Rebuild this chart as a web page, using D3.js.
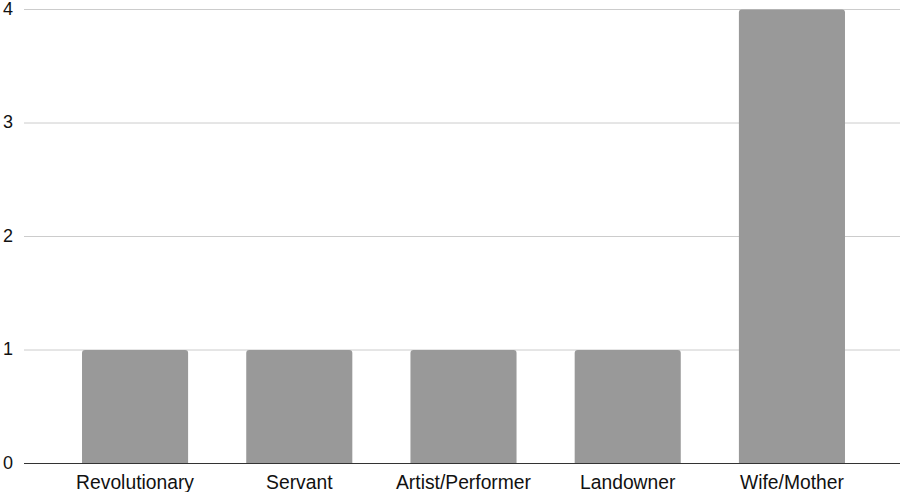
<!DOCTYPE html>
<html>
<head>
<meta charset="utf-8">
<script src="https://cdn.jsdelivr.net/npm/d3@7"></script>
<style>
  html, body { margin: 0; padding: 0; background: #fff; }
  svg { display: block; font-family: "Liberation Sans", Arial, sans-serif; }
</style>
</head>
<body>
<svg id="chart" width="900" height="492"></svg>
<script>
const categories = ["Revolutionary", "Servant", "Artist/Performer", "Landowner", "Wife/Mother"];
const counts = [1, 1, 1, 1, 4];
const yTicks = [0, 1, 2, 3, 4];

const svg = d3.select("#chart");
const plotLeft = 24, plotRight = 900, plotTop = 9.5, plotBottom = 463.5;

const x = d3.scaleBand()
  .domain(categories)
  .range([plotLeft + 3, plotRight])
  .paddingInner(0.354)
  .paddingOuter(0.335);

const y = d3.scaleLinear().domain([0, 4]).range([plotBottom, plotTop]);

// horizontal gridlines
svg.append("g")
  .selectAll("line")
  .data(yTicks.filter(d => d > 0))
  .join("line")
  .attr("x1", plotLeft).attr("x2", plotRight)
  .attr("y1", d => y(d)).attr("y2", d => y(d))
  .attr("stroke", "#cccccc").attr("stroke-width", 1);

// y tick labels
svg.append("g")
  .selectAll("text")
  .data(yTicks)
  .join("text")
  .attr("x", 8)
  .attr("y", d => y(d))
  .attr("dy", "0.28em")
  .attr("text-anchor", "middle")
  .attr("font-size", 18)
  .attr("fill", "#111")
  .text(d => d);

// bars with slightly rounded top corners
const r = 3;
svg.append("g")
  .selectAll("path")
  .data(categories.map((c, i) => ({ c, v: counts[i] })))
  .join("path")
  .attr("fill", "#999999")
  .attr("d", d => {
    const x0 = x(d.c), w = x.bandwidth(), y0 = y(d.v), y1 = y(0);
    return `M${x0},${y1}V${y0 + r}Q${x0},${y0} ${x0 + r},${y0}H${x0 + w - r}Q${x0 + w},${y0} ${x0 + w},${y0 + r}V${y1}Z`;
  });

// baseline
svg.append("line")
  .attr("x1", plotLeft).attr("x2", plotRight)
  .attr("y1", y(0)).attr("y2", y(0))
  .attr("stroke", "#333333").attr("stroke-width", 1.2);

// category labels
svg.append("g")
  .selectAll("text")
  .data(categories)
  .join("text")
  .attr("x", d => x(d) + x.bandwidth() / 2)
  .attr("y", 489)
  .attr("text-anchor", "middle")
  .attr("font-size", 19.3)
  .attr("fill", "#111")
  .text(d => d);
</script>
</body>
</html>
